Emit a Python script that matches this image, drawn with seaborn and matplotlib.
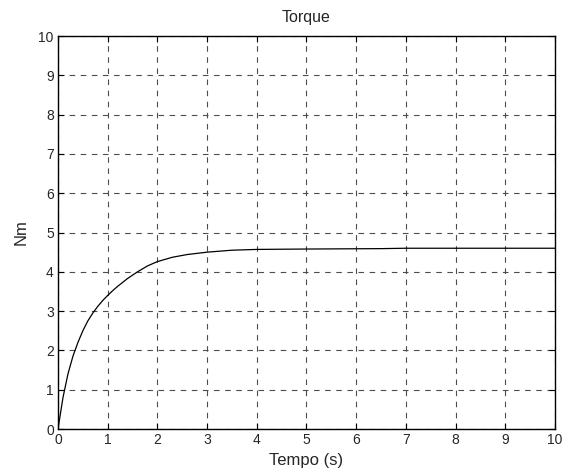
import matplotlib
matplotlib.use("Agg")
import matplotlib.pyplot as plt
import seaborn as sns
import pandas as pd

tempo = [0, 0.1, 0.2, 0.3, 0.4, 0.5, 0.6, 0.7, 0.8, 0.9, 1.0, 1.1, 1.2, 1.4, 1.6, 1.8,
         2.0, 2.3, 2.6, 3.0, 3.5, 4.0, 5.0, 6.5, 7.0, 8.0, 10.0]
torque = [0, 0.8, 1.4, 1.85, 2.2, 2.5, 2.75, 2.95, 3.12, 3.27, 3.4, 3.52, 3.63, 3.83, 4.0, 4.15,
          4.26, 4.37, 4.44, 4.5, 4.55, 4.57, 4.58, 4.59, 4.6, 4.6, 4.6]
xticks = list(range(0, 11))
yticks = list(range(0, 11))

sns.set_style("ticks")
plt.rcParams['font.family'] = ['Liberation Sans', 'DejaVu Sans']

df = pd.DataFrame({"Tempo (s)": tempo, "Nm": torque})

fig = plt.figure(figsize=(5.62, 4.74), dpi=100)
ax = fig.add_axes([0.1032, 0.0949, 0.8843, 0.8291])
sns.lineplot(data=df, x="Tempo (s)", y="Nm", ax=ax, color="black", linewidth=0.9)

ax.set_xlim(0, 10)
ax.set_ylim(0, 10)
ax.set_xticks(xticks)
ax.set_yticks(yticks)
ax.grid(True, color="0.3", linestyle=(0, (5, 5)), linewidth=0.8)
ax.tick_params(direction="in", top=True, right=True, length=4, labelsize=10, pad=3, color="black")
for s in ax.spines.values():
    s.set_visible(True)
    s.set_color("black")
    s.set_linewidth(1.0)
ax.set_title("Torque", fontsize=11.5, pad=10)
ax.set_xlabel("Tempo (s)", fontsize=12, labelpad=4)
ax.set_ylabel("Nm", fontsize=12, labelpad=7)
fig.savefig("out.png", dpi=100)
